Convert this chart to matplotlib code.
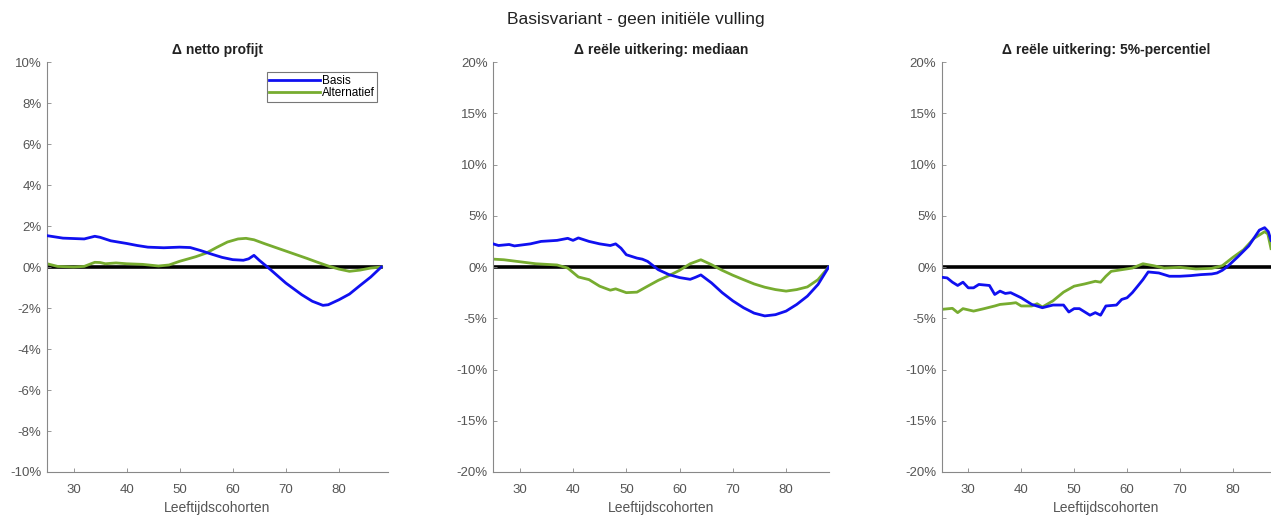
import numpy as np
import matplotlib.pyplot as plt
from matplotlib.ticker import FuncFormatter

plt.rcParams['font.family'] = ['Liberation Sans', 'DejaVu Sans']

# --- Data (percent) ---
# netto profijt
x1_basis = [25, 28, 31, 32, 34, 35, 37, 40, 42, 44, 47, 50, 52, 54, 56, 58, 60, 62, 63, 64, 65,
            67, 70, 73, 75, 77, 78, 80, 82, 84, 86, 88]
y1_basis = [1.53, 1.41, 1.38, 1.37, 1.50, 1.45, 1.28, 1.15, 1.05, 0.97, 0.94, 0.97, 0.95, 0.80,
            0.63, 0.47, 0.36, 0.33, 0.40, 0.57, 0.33, -0.10, -0.78, -1.35, -1.67, -1.87, -1.84,
            -1.60, -1.32, -0.90, -0.49, 0.0]
x1_alt = [25, 27, 30, 32, 34, 35, 36, 38, 40, 43, 46, 48, 50, 53, 55, 57, 59, 61, 62.5, 64, 66,
          68, 70, 72, 74, 76, 78, 80, 82, 84, 86, 88]
y1_alt = [0.16, 0.03, 0.0, 0.03, 0.23, 0.22, 0.16, 0.20, 0.16, 0.13, 0.05, 0.10, 0.28, 0.50,
          0.68, 0.96, 1.22, 1.37, 1.40, 1.33, 1.14, 0.96, 0.78, 0.60, 0.42, 0.23, 0.05, -0.10,
          -0.21, -0.15, -0.05, 0.0]

# reele uitkering: mediaan
x2_basis = [25, 26, 28, 29, 32, 34, 37, 39, 40, 41, 43, 45, 47, 48, 49, 50, 52, 53, 54, 56, 58,
            60, 62, 63, 64, 66, 68, 70, 72, 74, 76, 78, 80, 82, 84, 86, 88]
y2_basis = [2.26, 2.10, 2.20, 2.06, 2.26, 2.50, 2.60, 2.80, 2.60, 2.84, 2.50, 2.26, 2.10, 2.26,
            1.84, 1.20, 0.87, 0.77, 0.55, -0.26, -0.74, -1.03, -1.20, -1.00, -0.77, -1.55,
            -2.50, -3.30, -3.97, -4.50, -4.77, -4.65, -4.30, -3.65, -2.84, -1.70, 0.0]
x2_alt = [25, 27, 29, 31, 33, 35, 37, 39, 41, 43, 45, 47, 48, 50, 52, 54, 56, 58, 60, 62, 64,
          66, 68, 70, 72, 74, 76, 78, 80, 82, 84, 86, 88]
y2_alt = [0.77, 0.71, 0.58, 0.45, 0.32, 0.26, 0.20, -0.10, -0.97, -1.23, -1.87, -2.26, -2.13,
          -2.50, -2.45, -1.87, -1.30, -0.84, -0.32, 0.32, 0.71, 0.23, -0.32, -0.80, -1.23,
          -1.65, -1.97, -2.20, -2.35, -2.20, -1.94, -1.23, 0.0]

# reele uitkering: 5%-percentiel
x3_basis = [25, 26, 27, 28, 29, 30, 31, 32, 34, 35, 36, 37, 38, 40, 42, 44, 46, 48, 49, 50, 51,
            53, 54, 55, 56, 58, 59, 60, 61, 62, 63, 64, 66, 68, 70, 72, 74, 76, 77, 78, 79, 81,
            83, 85, 86, 86.7, 87.2]
y3_basis = [-1.00, -1.06, -1.48, -1.80, -1.48, -2.03, -2.03, -1.70, -1.80, -2.68, -2.35, -2.58,
            -2.50, -3.00, -3.65, -3.97, -3.71, -3.71, -4.39, -4.06, -4.06, -4.70, -4.45, -4.70,
            -3.80, -3.71, -3.16, -3.00, -2.50, -1.87, -1.23, -0.48, -0.58, -0.90, -0.90, -0.84,
            -0.74, -0.68, -0.58, -0.32, 0.06, 1.03, 2.06, 3.60, 3.84, 3.45, 2.60]
x3_alt = [25, 27, 28, 29, 31, 33, 35, 36, 38, 39, 40, 42, 43, 44, 46, 48, 50, 52, 54, 55, 56,
          57, 59, 61, 63, 65, 67, 70, 73, 76, 78, 80, 82, 84, 86, 86.6, 87.2]
y3_alt = [-4.13, -4.03, -4.45, -4.06, -4.30, -4.06, -3.80, -3.65, -3.55, -3.48, -3.80, -3.80,
          -3.58, -3.90, -3.30, -2.45, -1.87, -1.65, -1.39, -1.48, -0.90, -0.42, -0.26, -0.10,
          0.32, 0.13, -0.10, -0.03, -0.19, -0.13, 0.13, 0.94, 1.68, 2.80, 3.45, 3.23, 1.80]

panels = [
    ("\u0394 netto profijt", x1_basis, y1_basis, x1_alt, y1_alt, 10, 2, 89.2),
    ("\u0394 reële uitkering: mediaan", x2_basis, y2_basis, x2_alt, y2_alt, 20, 5, 88),
    ("\u0394 reële uitkering: 5%-percentiel", x3_basis, y3_basis, x3_alt, y3_alt, 20, 5, 87.2),
]

# axes boxes in figure fractions: [left, bottom, width, height]
boxes = [
    [0.037, 0.0835, 0.268, 0.796],
    [0.388, 0.0835, 0.264, 0.796],
    [0.741, 0.0835, 0.259, 0.796],
]

blue = '#1010f0'
green = '#77ac30'
grey = '#555555'

fig = plt.figure(figsize=(12.71, 5.15), dpi=100)
fig.text(0.5, 0.963, "Basisvariant - geen initiële vulling", ha='center', va='center',
         fontsize=12.5, color='#222222')

for i, (title, xb, yb, xa, ya, ylim, ystep, xmax) in enumerate(panels):
    ax = fig.add_axes(boxes[i])
    ax.plot([25, 88], [0, 0], color='black', lw=2.6, zorder=1)
    ax.plot(xb, yb, color=blue, lw=2.0, label='Basis', zorder=3)
    ax.plot(xa, ya, color=green, lw=2.0, label='Alternatief', zorder=2)

    ax.set_xlim(25, xmax)
    ax.set_ylim(-ylim, ylim)
    ax.set_yticks(np.arange(-ylim, ylim + ystep / 2, ystep))
    ax.set_xticks([30, 40, 50, 60, 70, 80])
    ax.yaxis.set_major_formatter(FuncFormatter(lambda v, p: f"{v:.0f}%"))

    for side in ['top', 'right']:
        ax.spines[side].set_visible(False)
    for side in ['left', 'bottom']:
        ax.spines[side].set_color('#888888')
        ax.spines[side].set_linewidth(0.8)
    ax.tick_params(direction='in', length=3, width=0.6, color='#888888',
                   labelcolor=grey, labelsize=9.5)
    ax.tick_params(axis='y', pad=4)
    ax.tick_params(axis='x', pad=8.5)

    ax.set_title(title, fontsize=10, fontweight='bold', color='#222222', pad=6)
    ax.set_xlabel("Leeftijdscohorten", fontsize=10, color=grey, labelpad=4)

    if i == 0:
        leg = ax.legend(loc='upper right', bbox_to_anchor=(0.968, 0.975), fontsize=8.5,
                        handlelength=4.3, fancybox=False, framealpha=1,
                        borderpad=0.2, labelspacing=0.05, handletextpad=0.15,
                        borderaxespad=0)
        leg.get_frame().set_edgecolor('#777777')
        leg.get_frame().set_linewidth(0.8)

fig.savefig("out.png", dpi=100)
